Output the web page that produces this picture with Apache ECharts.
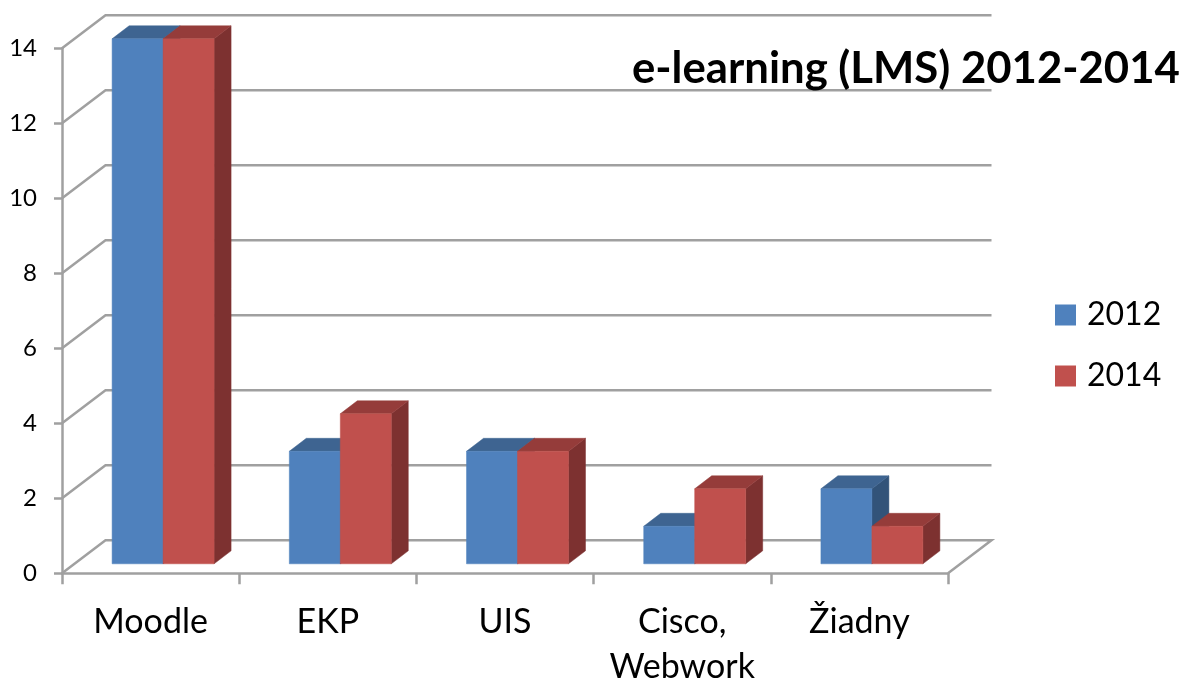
<!DOCTYPE html>
<html><head><meta charset="utf-8">
<style>html,body{margin:0;padding:0;background:#fff}#c{width:1191px;height:682px}</style>
<script src="https://cdn.jsdelivr.net/npm/echarts@6/dist/echarts.min.js"></script>
</head><body><div id="c"></div>
<script>
const categories = ['Moodle','EKP','UIS','Cisco,\nWebwork','Žiadny'];
const values2012 = [14,3,3,1,2];
const values2014 = [14,4,3,2,1];
const gridLevels = [0,2,4,6,8,10,12,14];
const FONT = 'Lato';
const WALL = {dx:43.5, dy:-33};
const BAR = {offX:12.5, offY:-9.5, widthFrac:0.2877, dx:17, dy:-13};
const GRID = '#a0a0a0';
const LINE_W = 2.5;
const chart = echarts.init(document.getElementById('c'), null, {renderer:'canvas'});

function bar3d(shift, colors){
  return function(params, api){
    const idx = api.value(0), v = api.value(1);
    const top = api.coord([idx, v]), base = api.coord([idx, 0]);
    const w = api.size([1,0])[0] * BAR.widthFrac;
    const x0 = top[0] + BAR.offX + shift * w, x1 = x0 + w;
    const yt = top[1] + BAR.offY, yb = base[1] + BAR.offY;
    const poly = (pts, fill) => ({type:'polygon', shape:{points:pts}, style:{fill, stroke:fill, lineWidth:0.5}});
    return {type:'group', children:[
      poly([[x1,yt],[x1+BAR.dx,yt+BAR.dy],[x1+BAR.dx,yb+BAR.dy],[x1,yb]], colors.side),
      poly([[x0,yt],[x0+BAR.dx,yt+BAR.dy],[x1+BAR.dx,yt+BAR.dy],[x1,yt]], colors.top),
      poly([[x0,yt],[x1,yt],[x1,yb],[x0,yb]], colors.front)
    ]};
  };
}
function wall(params, api){
  const v = api.value(0);
  const band = api.size([1,0])[0];
  const l = api.coord([0, v]), r = api.coord([categories.length-1, v]);
  const xl = l[0]-band/2, xr = r[0]+band/2, y = l[1];
  const style = {stroke:GRID, lineWidth:LINE_W, fill:'none'};
  const pts = [[xl,y],[xl+WALL.dx,y+WALL.dy],[xr+WALL.dx,y+WALL.dy]];
  if (v === 0) pts.push([xr,y]);
  return {type:'polyline', shape:{points:pts}, style};
}
const mk = arr => arr.map((v,i)=>[i,v]);
chart.setOption({
  animation:false,
  backgroundColor:'#fff',
  title:{text:'e-learning (LMS) 2012-2014', left:627, top:42, itemGap:0,
    textStyle:{fontFamily:FONT, fontSize:43.7, fontWeight:'bold', color:'#000'}},
  legend:{data:['2012','2014'], orient:'vertical', left:1055, top:299, padding:0, icon:'rect',
    itemWidth:21, itemHeight:21, itemGap:29,
    textStyle:{fontFamily:FONT, fontSize:32, lineHeight:21, color:'#000', padding:[0,0,0,6]}},
  grid:{left:62, top:48.3, width:886, height:525, outerBoundsMode:'none'},
  xAxis:{type:'category', data:categories,
    axisLine:{lineStyle:{color:GRID,width:LINE_W}},
    axisTick:{show:true, length:11, lineStyle:{color:GRID,width:LINE_W}},
    axisLabel:{fontFamily:FONT, fontSize:34, color:'#000', margin:26, lineHeight:45, interval:0}},
  yAxis:{type:'value', min:0, max:14, interval:2,
    axisLine:{show:true, lineStyle:{color:GRID,width:LINE_W}},
    axisTick:{show:true, length:8, lineStyle:{color:GRID,width:LINE_W}},
    splitLine:{show:false},
    axisLabel:{fontFamily:FONT, fontSize:24, color:'#000', margin:25}},
  series:[
    {type:'custom', name:'walls', silent:true, z:1, renderItem:wall,
      data:gridLevels.map(v=>[v]), encode:{y:0}},
    {type:'custom', name:'2012', z:2, renderItem:bar3d(-1,{front:'#4F81BD',top:'#3E6491',side:'#325379'}),
      itemStyle:{color:'#4F81BD'}, data:mk(values2012), encode:{x:0,y:1}},
    {type:'custom', name:'2014', z:3, renderItem:bar3d(0,{front:'#C0504D',top:'#953C3A',side:'#7D3130'}),
      itemStyle:{color:'#C0504D'}, data:mk(values2014), encode:{x:0,y:1}}
  ]
});
</script></body></html>
